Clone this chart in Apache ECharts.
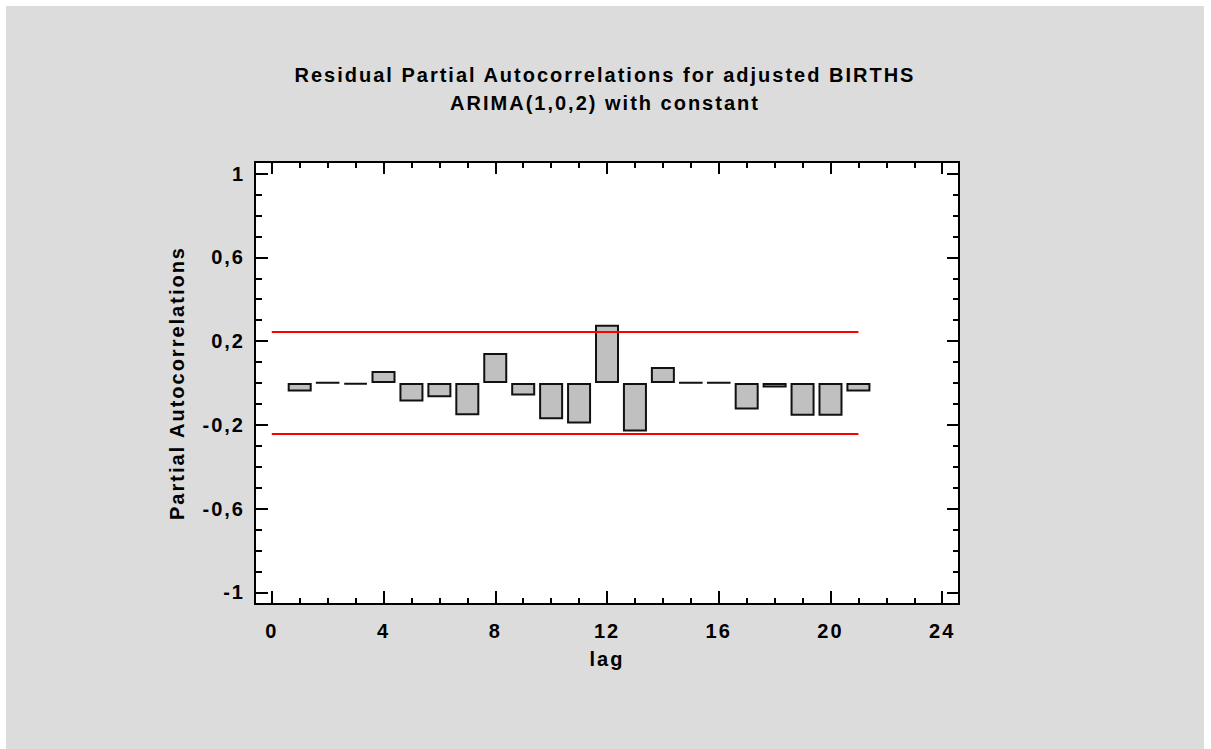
<!DOCTYPE html>
<html>
<head>
<meta charset="utf-8">
<script src="https://cdn.jsdelivr.net/npm/echarts@6/dist/echarts.min.js"></script>
<style>
  html, body { margin: 0; background: #fff; }
  #chart { position: absolute; left: 6px; top: 6px; width: 1198px; height: 743px; }
  #chart svg text { letter-spacing: 2px; }
</style>
</head>
<body>
<div id="chart"></div>
<script>
// residual partial autocorrelations by lag
const lags = [1, 2, 3, 4, 5, 6, 7, 8, 9, 10, 11, 12, 13, 14, 15, 16, 17, 18, 19, 20, 21];
const pacf = [-0.040, 0.002, -0.006, 0.057, -0.088, -0.068, -0.154, 0.143, -0.060, -0.173, -0.193, 0.278,
  -0.232, 0.076, 0.002, 0.002, -0.127, -0.022, -0.156, -0.156, -0.040];

// 95% limits
const limitSpan = [0, 21];
const limitValue = 0.243;

const xMajorTicks = [0, 4, 8, 12, 16, 20, 24];
const xMinorTicks = [1, 2, 3, 5, 6, 7, 9, 10, 11, 13, 14, 15, 17, 18, 19, 21, 22, 23];
const yMajorTicks = [-1, -0.6, -0.2, 0.2, 0.6, 1];
const yTickLabels = ['-1', '-0,6', '-0,2', '0,2', '0,6', '1'];
const yMinorTicks = [-0.9, -0.8, -0.7, -0.5, -0.4, -0.3, -0.1, 0, 0.1, 0.3, 0.4, 0.5, 0.7, 0.8, 0.9];

const FONT = 'Liberation Sans';
const xMin = -0.6, xMax = 24.6;
const yMin = -1.055, yMax = 1.055;

function xAxis(position, ticks, len, withLabels) {
  return {
    type: 'value', position: position, min: xMin, max: xMax,
    name: withLabels ? 'lag' : '',
    nameLocation: 'middle', nameGap: 45,
    nameTextStyle: { fontFamily: FONT, fontSize: 20, fontWeight: 'bold', color: '#000' },
    axisLine: { show: true, onZero: false, lineStyle: { color: '#000', width: 2 } },
    axisTick: { show: true, inside: true, length: len, customValues: ticks, lineStyle: { color: '#000', width: 2 } },
    axisLabel: {
      show: withLabels, customValues: xMajorTicks, margin: 17,
      fontFamily: FONT, fontSize: 20, fontWeight: 'bold', color: '#000'
    },
    splitLine: { show: false }
  };
}

function yAxis(position, ticks, len, withLabels) {
  return {
    type: 'value', position: position, min: yMin, max: yMax,
    name: withLabels ? 'Partial Autocorrelations' : '',
    nameLocation: 'middle', nameGap: 68,
    nameTextStyle: { fontFamily: FONT, fontSize: 20, fontWeight: 'bold', color: '#000' },
    axisLine: { show: true, onZero: false, lineStyle: { color: '#000', width: 2 } },
    axisTick: { show: true, inside: true, length: len, customValues: ticks, lineStyle: { color: '#000', width: 2 } },
    axisLabel: {
      show: withLabels, customValues: yMajorTicks, margin: 10,
      fontFamily: FONT, fontSize: 20, fontWeight: 'bold', color: '#000',
      formatter: (v) => {
        const i = yMajorTicks.findIndex((t) => Math.abs(t - v) < 1e-6);
        return i >= 0 ? yTickLabels[i] : '';
      }
    },
    splitLine: { show: false }
  };
}

const chart = echarts.init(document.getElementById('chart'), null, { renderer: 'svg' });

const option = {
  animation: false,
  backgroundColor: '#dcdcdc',
  title: {
    text: 'Residual Partial Autocorrelations for adjusted BIRTHS\nARIMA(1,0,2) with constant',
    left: 'center', top: 55, padding: 0,
    textStyle: { fontFamily: FONT, fontSize: 20, fontWeight: 'bold', color: '#000', lineHeight: 28 }
  },
  grid: { left: 249, top: 156, right: 245, bottom: 145, show: true, backgroundColor: '#fff', borderWidth: 0 },
  xAxis: [
    xAxis('bottom', xMajorTicks, 13, true),
    xAxis('bottom', xMinorTicks, 6, false),
    xAxis('top', xMajorTicks, 12, false),
    xAxis('top', xMinorTicks, 6, false)
  ],
  yAxis: [
    yAxis('left', yMajorTicks, 13, true),
    yAxis('left', yMinorTicks, 7, false),
    yAxis('right', yMajorTicks, 12, false),
    yAxis('right', yMinorTicks, 6, false)
  ],
  series: [
    {
      type: 'bar',
      xAxisIndex: 0, yAxisIndex: 0,
      barWidth: 24,
      data: lags.map((lag, i) => [lag, pacf[i]]),
      itemStyle: { color: '#c0c0c0', borderColor: '#111', borderWidth: 2 }
    },
    {
      type: 'line',
      xAxisIndex: 0, yAxisIndex: 0,
      symbol: 'none',
      data: limitSpan.map((x) => [x, limitValue]),
      lineStyle: { color: '#ff0000', width: 2 }
    },
    {
      type: 'line',
      xAxisIndex: 0, yAxisIndex: 0,
      symbol: 'none',
      data: limitSpan.map((x) => [x, -limitValue]),
      lineStyle: { color: '#ff0000', width: 2 }
    }
  ]
};

chart.setOption(option);
window.addEventListener('resize', chart.resize);
</script>
</body>
</html>
